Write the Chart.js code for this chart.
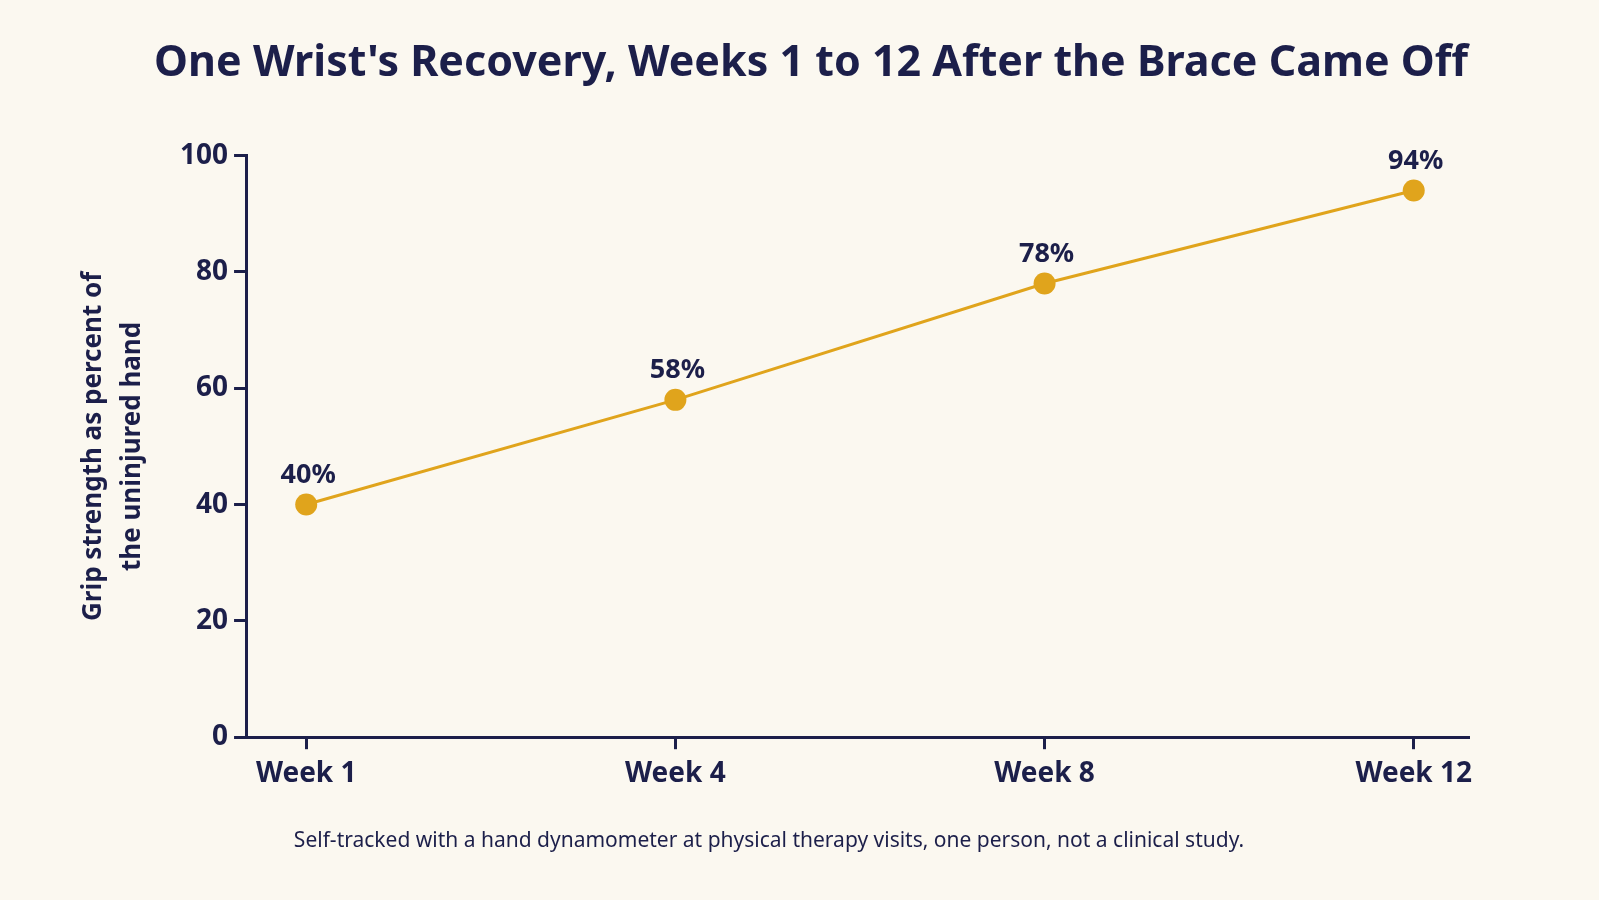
<!DOCTYPE html>
<html>
<head>
<meta charset="utf-8">
<script src="https://cdn.jsdelivr.net/npm/chart.js@4"></script>
<style>
  html, body { margin: 0; padding: 0; background: #fbf8f0; }
  #wrap { width: 1599px; height: 900px; position: relative; }
</style>
</head>
<body>
<div id="wrap"><canvas id="chart"></canvas></div>
<script>
// datos del grafico
var weekLabels = ['Week 1', 'Week 4', 'Week 8', 'Week 12'];
var gripValues = [40, 58, 78, 94];
var yTicks = [0, 20, 40, 60, 80, 100];

var navy = '#1c1f4a';
var gold = '#e0a41c';

// Etiquetas de porcentaje encima de cada punto
var pointLabels = {
    id: 'pointLabels',
    afterDatasetsDraw: function (chart) {
        var ctx = chart.ctx;
        var meta = chart.getDatasetMeta(0);
        ctx.save();
        ctx.font = 'bold 27px "Noto Sans"';
        ctx.fillStyle = navy;
        ctx.textAlign = 'center';
        ctx.textBaseline = 'bottom';
        meta.data.forEach(function (pt, i) {
            ctx.fillText(gripValues[i] + '%', pt.x + 2, pt.y - 16);
        });
        ctx.restore();
    }
};

new Chart(document.getElementById('chart'), {
    type: 'line',
    data: {
        datasets: [{
            data: gripValues.map(function (v, i) { return { x: i, y: v }; }),
            borderColor: gold,
            backgroundColor: gold,
            borderWidth: 3,
            pointRadius: 11,
            pointHoverRadius: 11,
            pointBorderWidth: 0
        }]
    },
    options: {
        responsive: true,
        maintainAspectRatio: false,
        animation: false,
        layout: { padding: { left: 70, right: 131, top: 20, bottom: 20 } },
        plugins: {
            legend: { display: false },
            tooltip: { enabled: false },
            title: {
                display: true,
                align: 'end',
                text: "One Wrist's Recovery, Weeks 1 to 12 After the Brace Came Off",
                color: navy,
                font: { family: 'Noto Sans', size: 43, weight: 'bold' },
                padding: { top: 18, bottom: 66 }
            },
            subtitle: {
                display: true,
                position: 'bottom',
                text: 'Self-tracked with a hand dynamometer at physical therapy visits, one person, not a clinical study.',
                color: navy,
                font: { family: 'Noto Sans', size: 21 },
                padding: { top: 30, bottom: 26 }
            }
        },
        scales: {
            x: {
                type: 'linear',
                min: -0.163,
                max: 3.147,
                afterBuildTicks: function (axis) {
                    axis.ticks = weekLabels.map(function (l, i) { return { value: i }; });
                },
                ticks: {
                    callback: function (v) { return weekLabels[v]; },
                    color: navy,
                    font: { family: 'Noto Sans', size: 28, weight: 'bold' },
                    padding: 8,
                    maxRotation: 0
                },
                grid: { drawOnChartArea: false, color: navy, lineWidth: 3, tickLength: 12 },
                border: { color: navy, width: 3 }
            },
            y: {
                min: 0,
                max: 100,
                afterBuildTicks: function (axis) {
                    axis.ticks = yTicks.map(function (v) { return { value: v }; });
                },
                ticks: {
                    color: navy,
                    font: { family: 'Noto Sans', size: 28, weight: 'bold' },
                    padding: 6
                },
                title: {
                    display: true,
                    text: ['Grip strength as percent of', 'the uninjured hand'],
                    color: navy,
                    font: { family: 'Noto Sans', size: 26, weight: 'bold', lineHeight: 1.5 },
                    padding: { bottom: 22 }
                },
                grid: { drawOnChartArea: false, color: navy, lineWidth: 3, tickLength: 12 },
                border: { color: navy, width: 3 }
            }
        }
    },
    plugins: [pointLabels]
});
</script>
</body>
</html>
